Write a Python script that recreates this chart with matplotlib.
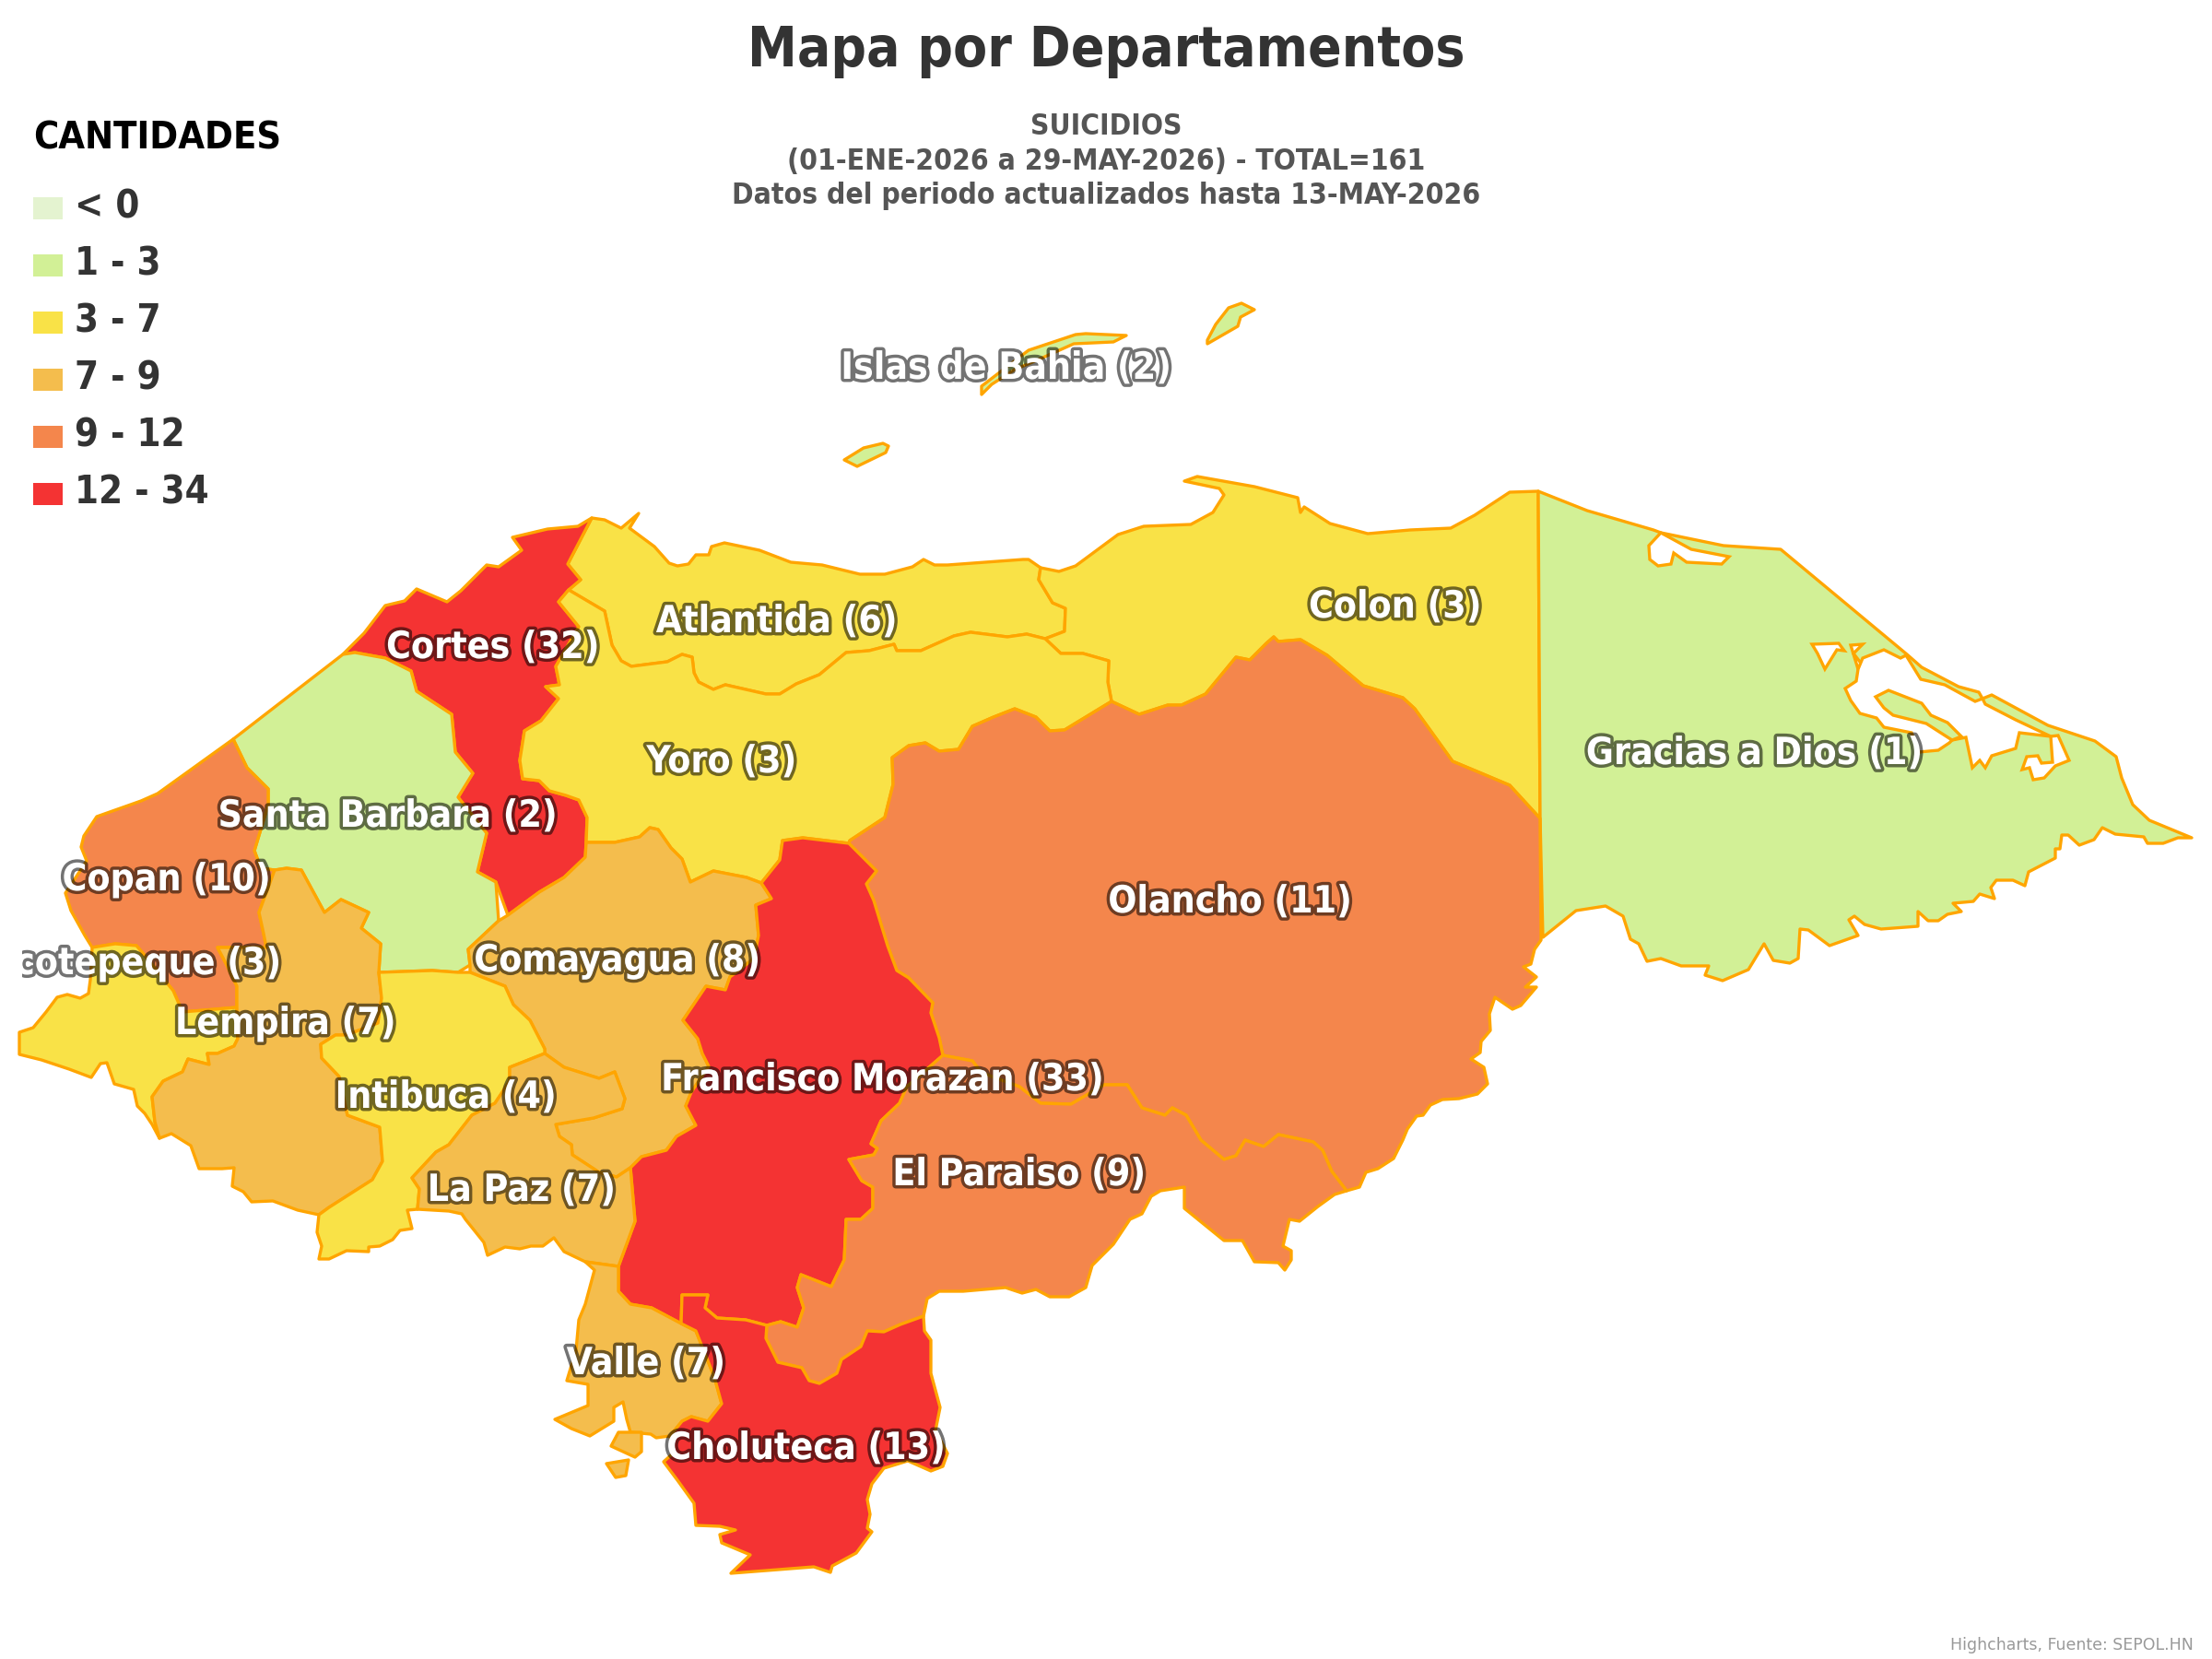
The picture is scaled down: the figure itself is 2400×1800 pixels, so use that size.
import numpy as np
import matplotlib
matplotlib.use('Agg')
import matplotlib.pyplot as plt
import matplotlib.patheffects as pe
from matplotlib.colors import BoundaryNorm, ListedColormap
from matplotlib.patches import Rectangle
from matplotlib.transforms import Bbox

# valores por departamento
deptos = ['Islas de Bahia', 'Atlantida', 'Colon', 'Cortes', 'Yoro', 'Gracias a Dios',
          'Santa Barbara', 'Copan', 'Olancho', 'Ocotepeque', 'Comayagua', 'Lempira',
          'Francisco Morazan', 'Intibuca', 'El Paraiso', 'La Paz', 'Valle', 'Choluteca']
cantidades = [2, 6, 3, 32, 3, 1, 2, 10, 11, 3, 8, 7, 33, 4, 9, 7, 7, 13]

rangos = ['< 0', '1 - 3', '3 - 7', '7 - 9', '9 - 12', '12 - 34']
limites = [0, 1, 3, 7, 9, 12, 35]
colores = ['#E4F3D0', '#D2F096', '#F9E247', '#F4BD4D', '#F4864C', '#F43333']

# tramos de frontera (coordenadas del mapa)
cortes_coast = [(372,710),(395,687),(418,657),(439,652),(452,639),(485,653),(500,641),(528,613),
                (541,615),(566,597),(556,583),(594,574),(627,571),(642,562)]
east_a = [(642,562),(616,612),(630,629),(617,640)]
east_b = [(617,640),(606,653),(628,680),(603,723),(607,743),(592,745),(606,758),(587,782),(569,793),
          (564,825),(567,845),(585,847),(596,858),(614,863),(628,868),(637,887),(636,914)]
east_c = [(636,914),(635,930),(612,952),(585,968),(551,993)]
cortes_sb = [(372,710),(385,708),(418,714),(446,728),(452,750),(490,775),(494,816),(513,839),
             (497,865),(528,904),(518,946),(538,957)]
atl_coast = [(642,562),(656,564),(674,573),(693,557),(683,573),(710,593),(726,611),(735,614),(747,612),
             (755,602),(769,602),(772,593),(786,589),(824,597),(858,610),(892,613),(933,623),(960,623),
             (990,615),(1002,607),(1014,613),(1028,613),(1110,607),(1116,607),(1129,616)]
atl_colon = [(1129,616),(1127,629),(1142,654),(1156,660),(1155,685),(1134,693)]
atl_yoro = [(1134,693),(1114,688),(1093,691),(1053,686),(1035,690),(999,706),(973,706),(970,699),(943,706),
            (918,708),(889,732),(864,742),(846,753),(831,753),(787,743),(774,748),(758,740),(753,730),
            (751,713),(740,710),(724,718),(685,723),(674,717),(664,700),(656,663),(617,640)]
colon_coast = [(1129,616),(1149,620),(1167,614),(1213,580),(1241,571),(1292,569),(1316,556),(1328,537),
               (1323,530),(1285,522),(1299,517),(1361,528),(1408,540),(1411,556),(1415,550),(1443,568),
               (1484,579),(1530,575),(1574,573),(1600,559),(1638,534),(1669,533)]
colon_east = [(1669,533),(1671,888)]
olan_colon = [(1671,888),(1638,852),(1600,836),(1576,826),(1535,769),(1522,757),(1479,744),(1440,711),
              (1411,694),(1387,696),(1382,691),(1374,698),(1356,716),(1341,713),(1308,753),(1282,765),
              (1267,765),(1236,775),(1206,761)]
colon_yoro = [(1206,761),(1202,740),(1203,717),(1175,709),(1151,709),(1134,693)]
yoro_olan = [(1206,761),(1155,792),(1139,793),(1124,778),(1101,769),(1078,778),(1055,788),(1040,813),
             (1019,815),(1004,806),(986,809),(968,822),(969,851),(960,887),(922,912),(921,915)]
yoro_fm = [(921,915),(871,909),(849,912),(846,933),(826,958)]
yoro_com = [(826,958),(810,952),(774,945),(749,957),(740,932),(728,920),(714,900),(705,898),(694,908),
            (667,914),(636,914)]
fm_olan = [(921,915),(951,945),(940,959),(948,977),(963,1026),(973,1053),(986,1061),(1012,1088),(1010,1099),
           (1019,1126),(1023,1145)]
olan_coast = [(1671,888),(1672,1020),(1665,1030),(1661,1046),(1653,1049),(1667,1060),(1655,1071),(1667,1071),
              (1650,1091),(1641,1095),(1622,1082),(1616,1100),(1617,1118),(1607,1130),(1606,1142),(1596,1149),
              (1610,1158),(1614,1176),(1603,1187),(1583,1192),(1565,1193),(1552,1199),(1544,1210),(1537,1211),
              (1527,1225),(1522,1237),(1512,1257),(1495,1268),(1482,1272),(1475,1288),(1461,1292)]
ep_olan = [(1023,1145),(1055,1151),(1065,1164),(1106,1179),(1129,1197),(1162,1198),(1198,1177),(1223,1177),
           (1239,1202),(1264,1210),(1272,1202),(1287,1210),(1303,1237),(1328,1258),(1341,1254),(1351,1237),
           (1371,1244),(1387,1231),(1425,1239),(1435,1248),(1445,1271),(1461,1292)]
ep_coast = [(1461,1292),(1448,1296),(1430,1309),(1410,1325),(1399,1323),(1392,1352),(1401,1357),(1401,1367),
            (1394,1378),(1387,1370),(1361,1369),(1348,1346),(1328,1346),(1285,1311),(1285,1288),(1259,1292),
            (1249,1298),(1239,1317),(1226,1323),(1208,1350),(1185,1373),(1178,1397),(1160,1407),(1139,1407),
            (1124,1399),(1109,1403),(1091,1397),(1045,1401),(1019,1401),(1006,1409),(1002,1428)]
ep_chol = [(1002,1428),(977,1437),(959,1445),(941,1444),(934,1461),(913,1475),(908,1490),(889,1501),
           (878,1498),(870,1484),(844,1478),(831,1452),(832,1438)]
fm_ep = [(1023,1145),(984,1179),(976,1197),(956,1216),(945,1241),(952,1246),(948,1253),(921,1258),(935,1281),
         (947,1288),(947,1311),(934,1323),(918,1323),(916,1367),(902,1396),(869,1383),(865,1397),(872,1419),
         (865,1440)]
fm_chol_a = [(865,1440),(847,1434),(832,1438)]
fm_chol_b = [(832,1438),(809,1432),(778,1430),(765,1419),(768,1405),(740,1405),(739,1436)]
fm_valle = [(739,1436),(707,1419),(684,1415),(671,1401),(671,1374)]
fm_lapaz = [(671,1374),(689,1325),(684,1267)]
com_fm = [(826,958),(837,975),(820,982),(823,1015),(818,1040),(792,1060),(787,1074),(766,1070),(741,1107),
          (757,1127),(762,1143),(769,1157),(750,1185),(744,1200),(755,1221),(734,1233),(723,1248),(696,1255),
          (684,1267)]
chol_coast = [(1002,1428),(1003,1444),(1010,1454),(1010,1490),(1020,1527),(1015,1552),(1028,1577),(1023,1591),
              (1010,1596),(985,1585),(959,1593),(946,1610),(941,1627),(944,1643),(941,1658),(946,1662),
              (929,1685),(903,1699),(901,1706),(883,1700),(793,1707),(814,1687),(783,1674),(781,1665),(798,1660),
              (781,1656),(755,1655),(753,1631),(735,1606),(720,1586),(730,1577),(727,1558),(740,1542)]
chol_valle = [(740,1542),(750,1537),(768,1542),(783,1523),(775,1494),(755,1444),(739,1436)]
valle_coast = [(671,1374),(635,1369),(645,1378),(635,1415),(628,1432),(625,1465),(615,1498),(638,1502),(638,1525),
               (602,1540),(620,1550),(640,1558),(666,1542),(666,1527),(676,1521),(680,1540),(684,1554),(706,1556),
               (712,1560),(727,1558),(740,1542)]
valle_isla1 = [(671,1554),(696,1554),(696,1575),(689,1581),(663,1569)]
valle_isla2 = [(658,1588),(682,1584),(679,1601),(668,1603)]
lp_com = [(591,1143),(612,1158),(650,1170),(667,1163),(678,1192),(675,1203),(644,1213),(603,1220),(607,1233),
          (620,1242),(621,1253),(650,1272),(669,1277),(684,1267)]
lp_int = [(591,1143),(553,1158),(553,1173),(537,1197),(512,1210),(487,1242),(473,1250),(447,1278),(455,1290),
          (453,1312)]
lp_coast = [(453,1312),(487,1314),(501,1317),(505,1323),(525,1348),(529,1362),(548,1353),(564,1355),(576,1352),
            (589,1352),(601,1343),(612,1358),(635,1369)]
com_int = [(510,1055),(548,1070),(557,1090),(575,1107),(591,1138),(591,1143)]
com_sb = [(510,1055),(510,1047),(508,1030),(541,999),(551,993)]
int_south = [(453,1312),(442,1313),(447,1333),(434,1335),(426,1345),(412,1352),(400,1353),(400,1358),(376,1357),
             (357,1366),(346,1366),(349,1352),(344,1337),(346,1318)]
lemp_int = [(411,1055),(414,1083),(410,1110),(376,1123),(364,1123),(348,1133),(349,1148),(368,1168),(377,1210),
            (412,1223),(415,1260),(404,1280),(357,1310),(346,1318)]
sb_lemp = [(298,944),(311,942),(327,944),(352,990),(370,976),(400,990),(392,1007),(413,1024),(411,1055)]
lemp_coast = [(346,1318),(323,1313),(296,1303),(273,1304),(264,1293),(252,1287),(254,1267),(241,1268),(216,1268),
              (207,1243),(186,1230),(173,1235)]
oco_lemp = [(173,1235),(168,1217),(165,1190),(177,1173),(198,1163),(204,1149),(227,1155),(225,1143),(236,1143),
            (254,1135),(258,1127),(257,1093)]
cop_lemp = [(257,1093),(257,1070),(246,1047),(236,1028),(289,1028),(286,1013),(281,990),(298,944)]
cop_coast = [(253,802),(171,861),(153,869),(105,886),(91,907),(88,919),(94,934),(71,969),(77,988),(92,1015),(100,1028)]
oco_cop = [(100,1028),(125,1024),(148,1026),(154,1033),(188,1075),(198,1098),(257,1093)]
oco_coast = [(173,1235),(165,1220),(157,1208),(149,1200),(145,1182),(124,1176),(116,1153),(109,1154),(99,1169),
             (75,1160),(45,1150),(21,1144),(21,1120),(36,1115),(50,1098),(62,1082),(73,1079),(87,1083),(96,1078),
             (98,1063),(100,1028)]
sb_cop = [(253,802),(268,833),(291,856),(291,873),(276,923),(283,942),(298,944)]
sb_int = [(411,1055),(469,1053),(497,1055),(510,1047),(508,1030),(541,999),(538,957)]
gad_outer = [(1669,533),(1722,554),(1794,575),(1802,578),(1870,592),(1932,596),(2069,710),(2085,724),(2125,745),
             (2147,751),(2151,758),(2161,754),(2222,787),(2273,804),(2296,821),(2302,844),(2314,873),(2332,890),
             (2378,909),(2363,909),(2347,915),(2330,915),(2326,908),(2295,905),(2281,898),(2272,911),(2256,917),
             (2244,906),(2237,906),(2235,921),(2230,921),(2230,931),(2201,946),(2197,961),(2184,955),(2166,955),
             (2160,963),(2164,975),(2148,970),(2141,978),(2119,980),(2128,989),(2113,992),(2103,999),(2092,999),
             (2081,989),(2081,1005),(2041,1008),(2023,1003),(2012,994),(2006,998),(2016,1015),(1985,1026),(1962,1009),
             (1953,1008),(1951,1040),(1942,1045),(1924,1042),(1914,1024),(1897,1052),(1869,1064),(1850,1058),(1854,1048),
             (1824,1048),(1802,1040),(1787,1043),(1778,1024),(1769,1019),(1761,994),(1742,983),(1710,988),(1674,1017),
             (1671,888)]
laguna_brus = [(1802,578),(1789,592),(1790,607),(1799,614),(1813,612),(1816,600),(1830,610),(1868,612),(1876,604),(1835,596)]
laguna_brazo = [(1966,699),(1995,698),(2001,706),(1993,705),(1980,726),(1972,709)]
laguna_hilo = [(2008,700),(2021,699),(2011,709),(2021,722),(2016,726)]
laguna_ibans = [(2014,739),(2016,726),(2021,714),(2044,705),(2062,714),(2068,711),(2084,737),(2110,743),(2143,761),
                (2151,758),(2154,764),(2187,781),(2225,799),(2191,795),(2187,812),(2161,820),(2154,833),(2148,825),
                (2140,833),(2133,800),(2118,803),(2115,806),(2103,814),(2082,816),(2074,795),(2044,789),(2036,779),
                (2018,774),(2008,760),(2002,747)]
gad_isla = [(2035,756),(2049,749),(2085,763),(2095,776),(2113,784),(2128,799),(2118,803),(2090,785),(2054,776),(2044,768)]
laguna_este = [(2233,798),(2245,825),(2230,831),(2218,844),(2206,846),(2202,833),(2194,835),(2199,821),(2211,820),
               (2215,828),(2227,827),(2225,799)]
roatan = [(1065,428),(1065,419),(1116,380),(1167,363),(1178,362),(1222,364),(1208,371),(1165,373),(1127,390),(1101,401),(1076,417)]
guanaja = [(1310,373),(1310,369),(1319,352),(1333,334),(1347,329),(1361,336),(1346,344),(1343,354)]
utila = [(916,499),(937,486),(958,481),(964,484),(961,491),(930,506)]


def rev(chain):
    return chain[::-1]


formas = {
    'Islas de Bahia': [roatan, guanaja, utila],
    'Atlantida': [atl_coast + atl_colon + atl_yoro + rev(east_a)],
    'Colon': [colon_coast + colon_east + olan_colon + colon_yoro + rev(atl_colon)],
    'Cortes': [cortes_coast + east_a + east_b + east_c + [(538,957)] + rev(cortes_sb)],
    'Yoro': [rev(atl_yoro) + rev(colon_yoro) + yoro_olan + yoro_fm + yoro_com + rev(east_b)],
    'Gracias a Dios': [gad_outer],
    'Santa Barbara': [[(372,710)] + sb_cop + sb_lemp + sb_int + rev(cortes_sb)],
    'Copan': [cop_coast + oco_cop + cop_lemp + [(283,942)] + rev(sb_cop[:6])],
    'Olancho': [rev(olan_colon) + olan_coast + rev(ep_olan) + rev(fm_olan) + rev(yoro_olan)],
    'Ocotepeque': [oco_cop + rev(oco_lemp) + oco_coast],
    'Comayagua': [rev(yoro_com) + com_fm + rev(lp_com) + rev(com_int) + com_sb + rev(east_c)],
    'Lempira': [sb_lemp + lemp_int + lemp_coast + oco_lemp + cop_lemp],
    'Francisco Morazan': [rev(yoro_fm) + fm_olan + fm_ep + fm_chol_a + fm_chol_b + fm_valle + fm_lapaz + rev(com_fm)],
    'Intibuca': [[(411,1055),(469,1053),(497,1055)] + com_int + lp_int + int_south + rev(lemp_int)],
    'El Paraiso': [ep_olan + ep_coast + ep_chol + rev(fm_chol_a) + rev(fm_ep)],
    'La Paz': [lp_com + rev(fm_lapaz) + rev(lp_coast) + rev(lp_int)],
    'Valle': [valle_coast + chol_valle + fm_valle, valle_isla1, valle_isla2],
    'Choluteca': [chol_coast + chol_valle + rev(fm_chol_b) + rev(ep_chol)],
}

# centro de cada etiqueta
etiquetas_xy = {
    'Islas de Bahia': (1092, 400), 'Atlantida': (843, 675), 'Colon': (1514, 659), 'Cortes': (535, 703),
    'Yoro': (783, 827), 'Gracias a Dios': (1904, 818), 'Santa Barbara': (421, 886), 'Copan': (181, 955),
    'Olancho': (1335, 979), 'Comayagua': (670, 1043), 'Lempira': (310, 1111),
    'Francisco Morazan': (958, 1172), 'Intibuca': (484, 1191), 'El Paraiso': (1106, 1275),
    'La Paz': (566, 1292), 'Valle': (701, 1480), 'Choluteca': (875, 1572),
}

plt.rcParams['font.family'] = ['DejaVu Sans']
plt.rcParams['font.stretch'] = 'condensed'

fig = plt.figure(figsize=(24, 18), dpi=100)
ax = fig.add_axes([0, 0, 1, 1])
ax.set_xlim(0, 2400)
ax.set_ylim(1800, 0)
ax.axis('off')

cmap = ListedColormap(colores)
norm = BoundaryNorm(limites, cmap.N)
BORDE = '#FFA500'
GROSOR = 2.4

for nombre, valor in zip(deptos, cantidades):
    for poly in formas[nombre]:
        pts = np.array(poly)
        ax.fill(pts[:, 0], pts[:, 1], facecolor=cmap(norm(valor)), edgecolor=BORDE, lw=GROSOR, joinstyle='round')

# lagunas de Gracias a Dios
for poly in [laguna_brus, laguna_brazo, laguna_hilo, laguna_ibans, laguna_este]:
    pts = np.array(poly)
    ax.fill(pts[:, 0], pts[:, 1], facecolor='white', edgecolor=BORDE, lw=GROSOR)
pts = np.array(gad_isla)
ax.fill(pts[:, 0], pts[:, 1], facecolor=colores[1], edgecolor=BORDE, lw=GROSOR)

# etiquetas
contorno = [pe.withStroke(linewidth=5, foreground='black', alpha=0.55)]
for nombre, valor in zip(deptos, cantidades):
    txt = f'{nombre} ({valor})'
    if nombre == 'Ocotepeque':
        # recortada en el borde izquierdo, como en el original
        t = ax.text(306, 1046, txt, ha='right', va='center', fontsize=29.3, fontweight='bold',
                    color='white', path_effects=contorno, clip_on=True)
        t.set_clip_box(Bbox([[24, 0], [2400, 1800]]))
    else:
        x, y = etiquetas_xy[nombre]
        ax.text(x, y, txt, ha='center', va='center', fontsize=29.3, fontweight='bold',
                color='white', path_effects=contorno)

# titulos
ax.text(1200, 72, 'Mapa por Departamentos', ha='center', va='baseline', fontsize=43.3,
        fontweight='bold', color='#333333')
subtitulos = ['SUICIDIOS', '(01-ENE-2026 a 29-MAY-2026) - TOTAL=161',
              'Datos del periodo actualizados hasta 13-MAY-2026']
for linea, y in zip(subtitulos, [146, 184, 221]):
    ax.text(1200, y, linea, ha='center', va='baseline', fontsize=22.8, fontweight='bold', color='#555555')

# leyenda
ax.text(36, 162, 'CANTIDADES', ha='left', va='baseline', fontsize=29.8, fontweight='bold', color='black')
for i, (rango, col) in enumerate(zip(rangos, colores)):
    y0 = 214 + i * 62
    ax.add_patch(Rectangle((36, y0), 32, 24, facecolor=col, edgecolor='none'))
    ax.text(81, y0 + 22.5, rango, ha='left', va='baseline', fontsize=30, fontweight='bold', color='#333333')

ax.text(2380, 1790, 'Highcharts, Fuente: SEPOL.HN', ha='right', va='baseline', fontsize=12.5,
        fontstretch='normal', color='#999999')

fig.savefig('out.png', dpi=100)
